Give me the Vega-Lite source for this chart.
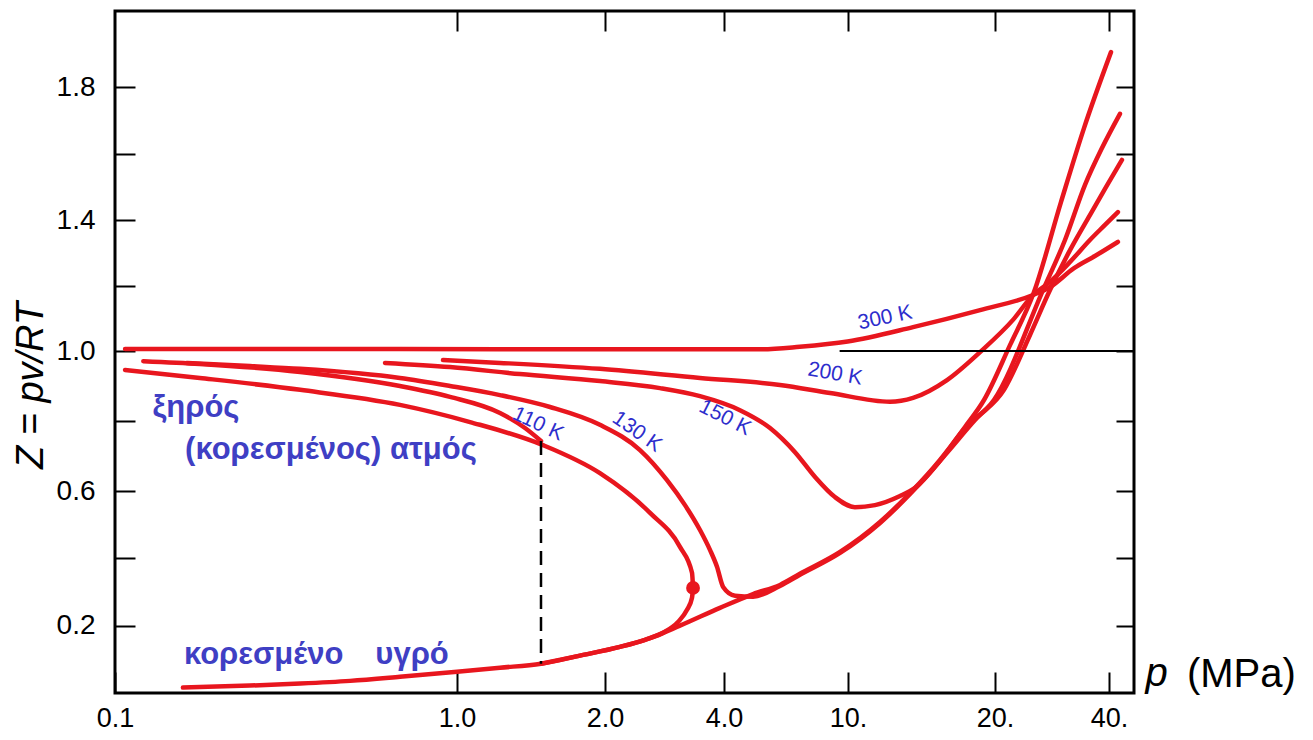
{
  "$schema": "https://vega.github.io/schema/vega-lite/v6.json",
  "width": 1019,
  "height": 682,
  "autosize": {"type": "none"},
  "padding": {"left": 115, "top": 11, "right": 179, "bottom": 47},
  "background": "white",
  "config": {
    "font": "Liberation Sans",
    "view": {"stroke": "black", "strokeWidth": 3},
    "axis": {"grid": false, "domain": false, "tickColor": "black", "tickWidth": 2, "labelColor": "black", "titleColor": "black", "labelFont": "Liberation Sans", "titleFont": "Liberation Sans"}
  },
  "datasets": {
    "curves": [
      {"s": "300K", "p": 0.107, "Z": 1.006}, {"s": "300K", "p": 0.681, "Z": 1.006}, {"s": "300K", "p": 1.953, "Z": 1.005}, {"s": "300K", "p": 5.2, "Z": 1.005}, {"s": "300K", "p": 7.0, "Z": 1.013}, {"s": "300K", "p": 9.97, "Z": 1.029}, {"s": "300K", "p": 13.59, "Z": 1.073}, {"s": "300K", "p": 18.64, "Z": 1.125}, {"s": "300K", "p": 25.2, "Z": 1.171}, {"s": "300K", "p": 27.94, "Z": 1.195}, {"s": "300K", "p": 32.34, "Z": 1.253}, {"s": "300K", "p": 36.73, "Z": 1.29}, {"s": "300K", "p": 42.24, "Z": 1.333},
      {"s": "200K", "p": 0.91, "Z": 0.974}, {"s": "200K", "p": 1.223, "Z": 0.966}, {"s": "200K", "p": 1.953, "Z": 0.949}, {"s": "200K", "p": 3.478, "Z": 0.923}, {"s": "200K", "p": 6.05, "Z": 0.903}, {"s": "200K", "p": 8.76, "Z": 0.88}, {"s": "200K", "p": 12.19, "Z": 0.855}, {"s": "200K", "p": 13.59, "Z": 0.866}, {"s": "200K", "p": 15.95, "Z": 0.917}, {"s": "200K", "p": 18.64, "Z": 0.997}, {"s": "200K", "p": 22.31, "Z": 1.095}, {"s": "200K", "p": 25.2, "Z": 1.171}, {"s": "200K", "p": 27.94, "Z": 1.211}, {"s": "200K", "p": 31.56, "Z": 1.272}, {"s": "200K", "p": 35.62, "Z": 1.339}, {"s": "200K", "p": 39.04, "Z": 1.385}, {"s": "200K", "p": 42.24, "Z": 1.424},
      {"s": "150K", "p": 0.616, "Z": 0.966}, {"s": "150K", "p": 0.954, "Z": 0.954}, {"s": "150K", "p": 1.343, "Z": 0.934}, {"s": "150K", "p": 1.953, "Z": 0.914}, {"s": "150K", "p": 2.755, "Z": 0.894}, {"s": "150K", "p": 3.478, "Z": 0.871}, {"s": "150K", "p": 4.5, "Z": 0.831}, {"s": "150K", "p": 5.62, "Z": 0.78}, {"s": "150K", "p": 6.76, "Z": 0.711}, {"s": "150K", "p": 7.84, "Z": 0.64}, {"s": "150K", "p": 9.08, "Z": 0.582}, {"s": "150K", "p": 10.33, "Z": 0.552}, {"s": "150K", "p": 11.36, "Z": 0.558}, {"s": "150K", "p": 12.78, "Z": 0.585}, {"s": "150K", "p": 13.72, "Z": 0.609}, {"s": "150K", "p": 15.8, "Z": 0.703}, {"s": "150K", "p": 18.2, "Z": 0.803}, {"s": "150K", "p": 21.12, "Z": 0.889}, {"s": "150K", "p": 24.74, "Z": 1.049}, {"s": "150K", "p": 27.94, "Z": 1.186}, {"s": "150K", "p": 31.56, "Z": 1.308}, {"s": "150K", "p": 35.62, "Z": 1.415}, {"s": "150K", "p": 39.27, "Z": 1.499}, {"s": "150K", "p": 43.29, "Z": 1.581},
      {"s": "130K", "p": 0.162, "Z": 0.966}, {"s": "130K", "p": 0.248, "Z": 0.957}, {"s": "130K", "p": 0.348, "Z": 0.949}, {"s": "130K", "p": 0.681, "Z": 0.923}, {"s": "130K", "p": 0.954, "Z": 0.9}, {"s": "130K", "p": 1.223, "Z": 0.874}, {"s": "130K", "p": 1.546, "Z": 0.84}, {"s": "130K", "p": 1.953, "Z": 0.789}, {"s": "130K", "p": 2.452, "Z": 0.717}, {"s": "130K", "p": 2.87, "Z": 0.631}, {"s": "130K", "p": 3.187, "Z": 0.558}, {"s": "130K", "p": 3.478, "Z": 0.484}, {"s": "130K", "p": 3.686, "Z": 0.425}, {"s": "130K", "p": 3.84, "Z": 0.375}, {"s": "130K", "p": 3.98, "Z": 0.315}, {"s": "130K", "p": 4.34, "Z": 0.289}, {"s": "130K", "p": 4.96, "Z": 0.286}, {"s": "130K", "p": 6.05, "Z": 0.318}, {"s": "130K", "p": 7.01, "Z": 0.351}, {"s": "130K", "p": 9.43, "Z": 0.416}, {"s": "130K", "p": 11.63, "Z": 0.505}, {"s": "130K", "p": 13.4, "Z": 0.591}, {"s": "130K", "p": 15.43, "Z": 0.686}, {"s": "130K", "p": 17.36, "Z": 0.78}, {"s": "130K", "p": 19.9, "Z": 0.86}, {"s": "130K", "p": 26.78, "Z": 1.186}, {"s": "130K", "p": 30.61, "Z": 1.339}, {"s": "130K", "p": 34.57, "Z": 1.506}, {"s": "130K", "p": 38.33, "Z": 1.617}, {"s": "130K", "p": 42.77, "Z": 1.72},
      {"s": "110V", "p": 0.121, "Z": 0.971}, {"s": "110V", "p": 0.177, "Z": 0.963}, {"s": "110V", "p": 0.348, "Z": 0.94}, {"s": "110V", "p": 0.681, "Z": 0.9}, {"s": "110V", "p": 0.954, "Z": 0.869}, {"s": "110V", "p": 1.223, "Z": 0.823}, {"s": "110V", "p": 1.375, "Z": 0.78}, {"s": "110V", "p": 1.482, "Z": 0.743},
      {"s": "110L", "p": 1.482, "Z": 0.087}, {"s": "110L", "p": 1.779, "Z": 0.111}, {"s": "110L", "p": 2.182, "Z": 0.137}, {"s": "110L", "p": 2.525, "Z": 0.158}, {"s": "110L", "p": 3.095, "Z": 0.2}, {"s": "110L", "p": 3.907, "Z": 0.253}, {"s": "110L", "p": 4.96, "Z": 0.294}, {"s": "110L", "p": 6.05, "Z": 0.321}, {"s": "110L", "p": 7.01, "Z": 0.354}, {"s": "110L", "p": 9.43, "Z": 0.419}, {"s": "110L", "p": 11.63, "Z": 0.508}, {"s": "110L", "p": 13.4, "Z": 0.594}, {"s": "110L", "p": 15.43, "Z": 0.689}, {"s": "110L", "p": 17.36, "Z": 0.783}, {"s": "110L", "p": 18.99, "Z": 0.86}, {"s": "110L", "p": 21.91, "Z": 1.018}, {"s": "110L", "p": 25.35, "Z": 1.18}, {"s": "110L", "p": 29.87, "Z": 1.454}, {"s": "110L", "p": 34.36, "Z": 1.677}, {"s": "110L", "p": 40.49, "Z": 1.906},
      {"s": "SV", "p": 0.107, "Z": 0.946}, {"s": "SV", "p": 0.177, "Z": 0.923}, {"s": "SV", "p": 0.348, "Z": 0.889}, {"s": "SV", "p": 0.681, "Z": 0.846}, {"s": "SV", "p": 1.063, "Z": 0.797}, {"s": "SV", "p": 1.496, "Z": 0.731}, {"s": "SV", "p": 1.953, "Z": 0.651}, {"s": "SV", "p": 2.6, "Z": 0.535}, {"s": "SV", "p": 3.095, "Z": 0.434}, {"s": "SV", "p": 3.32, "Z": 0.357}, {"s": "SV", "p": 3.34, "Z": 0.312},
      {"s": "SL", "p": 0.158, "Z": 0.016}, {"s": "SL", "p": 0.248, "Z": 0.022}, {"s": "SL", "p": 0.348, "Z": 0.028}, {"s": "SL", "p": 0.487, "Z": 0.036}, {"s": "SL", "p": 0.681, "Z": 0.048}, {"s": "SL", "p": 1.0, "Z": 0.063}, {"s": "SL", "p": 1.223, "Z": 0.075}, {"s": "SL", "p": 1.482, "Z": 0.087}, {"s": "SL", "p": 1.779, "Z": 0.111}, {"s": "SL", "p": 2.182, "Z": 0.137}, {"s": "SL", "p": 2.525, "Z": 0.158}, {"s": "SL", "p": 2.836, "Z": 0.182}, {"s": "SL", "p": 3.06, "Z": 0.211}, {"s": "SL", "p": 3.225, "Z": 0.247}, {"s": "SL", "p": 3.32, "Z": 0.283}, {"s": "SL", "p": 3.34, "Z": 0.312}
    ],
    "crit": [{"p": 3.34, "Z": 0.312}],
    "dash": [{"p": 1.482, "Z": 0.743, "Z2": 0.087}],
    "ref": [{"p": 9.4, "p2": 46.6, "Z": 1.0}],
    "greek": [
      {"t": "ξηρός", "p": 0.1725, "Z": 0.837},
      {"t": "(κορεσμένος) ατμός", "p": 0.428, "Z": 0.717},
      {"t": "κορεσμένο", "p": 0.272, "Z": 0.1136},
      {"t": "υγρό", "p": 0.739, "Z": 0.1136}
    ],
    "temps": [
      {"t": "300 K", "p": 11.91, "Z": 1.101},
      {"t": "200 K", "p": 9.08, "Z": 0.934},
      {"t": "150 K", "p": 4.03, "Z": 0.809},
      {"t": "130 K", "p": 2.41, "Z": 0.769},
      {"t": "110 K", "p": 1.461, "Z": 0.791}
    ],
    "unit": [{"t": "(MPa)", "p": 89.8, "Z": 0.054}]
  },
  "resolve": {"axis": {"x": "independent", "y": "independent"}},
  "layer": [
    {
      "data": {"name": "curves"},
      "mark": {"type": "line", "color": "#e8161e", "strokeWidth": 4.5, "interpolate": "monotone", "strokeCap": "round"},
      "encoding": {
        "x": {"field": "p", "type": "quantitative",
          "scale": {"type": "log", "domain": [0.1, 1, 2, 4, 10, 20, 40, 46.6], "range": [0, 342, 490, 609, 733, 880, 994, 1019], "nice": false, "zero": false},
          "axis": {"orient": "bottom", "values": [0.1, 1, 2, 4, 10, 20, 40],
            "labelExpr": "datum.value == 0.1 ? '0.1' : datum.value == 1 ? '1.0' : datum.value == 2 ? '2.0' : datum.value == 4 ? '4.0' : datum.value == 10 ? '10.' : datum.value == 20 ? '20.' : '40.'",
            "tickSize": -21, "labelPadding": 33, "labelFontSize": 27, "labelFlush": false, "labelOverlap": false, "labelBound": false,
            "title": "p", "titleFontSize": 40, "titleFontStyle": "italic", "titleFontWeight": "normal", "titleX": 1041, "titleY": -20, "titleAlign": "center", "titleBaseline": "middle"}},
        "y": {"field": "Z", "type": "quantitative",
          "scale": {"domain": [0, 0.6, 1.0, 1.4, 2.03], "range": [682, 480, 340, 209, 0], "nice": false, "zero": false},
          "axis": {"orient": "left", "values": [0.2, 0.4, 0.6, 0.8, 1.0, 1.2, 1.4, 1.6, 1.8],
            "labelExpr": "(datum.value == 0.2 || datum.value == 0.6 || datum.value == 1 || datum.value == 1.4 || datum.value == 1.8) ? format(datum.value, '.1f') : ''",
            "tickSize": -20, "labelPadding": 40, "labelFontSize": 28, "labelOverlap": false,
            "title": "Z = pv/RT", "titleFontSize": 38, "titleFontStyle": "italic", "titleFontWeight": "normal", "titleX": -84, "titleY": 374, "titleAngle": -90, "titleAlign": "center", "titleBaseline": "middle"}},
        "detail": {"field": "s", "type": "nominal"}
      }
    },
    {
      "data": {"name": "ref"},
      "mark": {"type": "rule", "color": "black", "strokeWidth": 2},
      "encoding": {
        "x": {"field": "p", "type": "quantitative",
          "axis": {"orient": "top", "values": [1, 2, 4, 10, 20, 40], "labels": false, "tickSize": -20, "title": null}},
        "x2": {"field": "p2"},
        "y": {"field": "Z", "type": "quantitative",
          "axis": {"orient": "right", "values": [0.2, 0.4, 0.6, 0.8, 1.0, 1.2, 1.4, 1.6, 1.8], "labels": false, "tickSize": -18, "title": null}}
      }
    },
    {
      "data": {"name": "dash"},
      "mark": {"type": "rule", "color": "black", "strokeWidth": 2.5, "strokeDash": [14, 8]},
      "encoding": {
        "x": {"field": "p", "type": "quantitative", "axis": null},
        "y": {"field": "Z", "type": "quantitative", "axis": null},
        "y2": {"field": "Z2"}
      }
    },
    {
      "data": {"name": "crit"},
      "mark": {"type": "point", "filled": true, "color": "#e8161e", "opacity": 1, "size": 190},
      "encoding": {
        "x": {"field": "p", "type": "quantitative", "axis": null},
        "y": {"field": "Z", "type": "quantitative", "axis": null}
      }
    },
    {
      "data": {"name": "greek"},
      "mark": {"type": "text", "color": "#3f3fc4", "fontSize": 31, "fontWeight": "bold", "align": "center", "baseline": "middle", "font": "Liberation Sans"},
      "encoding": {
        "x": {"field": "p", "type": "quantitative", "axis": null},
        "y": {"field": "Z", "type": "quantitative", "axis": null},
        "text": {"field": "t"}
      }
    },
    {
      "data": {"name": "temps"},
      "transform": [{"filter": "datum.t == '300 K'"}],
      "mark": {"type": "text", "color": "#2d2dcc", "fontSize": 21, "align": "center", "baseline": "middle", "angle": -12, "font": "Liberation Sans"},
      "encoding": {"x": {"field": "p", "type": "quantitative", "axis": null}, "y": {"field": "Z", "type": "quantitative", "axis": null}, "text": {"field": "t"}}
    },
    {
      "data": {"name": "temps"},
      "transform": [{"filter": "datum.t == '200 K'"}],
      "mark": {"type": "text", "color": "#2d2dcc", "fontSize": 21, "align": "center", "baseline": "middle", "angle": 10, "font": "Liberation Sans"},
      "encoding": {"x": {"field": "p", "type": "quantitative", "axis": null}, "y": {"field": "Z", "type": "quantitative", "axis": null}, "text": {"field": "t"}}
    },
    {
      "data": {"name": "temps"},
      "transform": [{"filter": "datum.t == '150 K'"}],
      "mark": {"type": "text", "color": "#2d2dcc", "fontSize": 21, "align": "center", "baseline": "middle", "angle": 27, "font": "Liberation Sans"},
      "encoding": {"x": {"field": "p", "type": "quantitative", "axis": null}, "y": {"field": "Z", "type": "quantitative", "axis": null}, "text": {"field": "t"}}
    },
    {
      "data": {"name": "temps"},
      "transform": [{"filter": "datum.t == '130 K'"}],
      "mark": {"type": "text", "color": "#2d2dcc", "fontSize": 21, "align": "center", "baseline": "middle", "angle": 35, "font": "Liberation Sans"},
      "encoding": {"x": {"field": "p", "type": "quantitative", "axis": null}, "y": {"field": "Z", "type": "quantitative", "axis": null}, "text": {"field": "t"}}
    },
    {
      "data": {"name": "temps"},
      "transform": [{"filter": "datum.t == '110 K'"}],
      "mark": {"type": "text", "color": "#2d2dcc", "fontSize": 21, "align": "center", "baseline": "middle", "angle": 25, "font": "Liberation Sans"},
      "encoding": {"x": {"field": "p", "type": "quantitative", "axis": null}, "y": {"field": "Z", "type": "quantitative", "axis": null}, "text": {"field": "t"}}
    },
    {
      "data": {"name": "unit"},
      "mark": {"type": "text", "color": "black", "fontSize": 40, "align": "center", "baseline": "middle", "font": "Liberation Sans"},
      "encoding": {"x": {"field": "p", "type": "quantitative", "axis": null}, "y": {"field": "Z", "type": "quantitative", "axis": null}, "text": {"field": "t"}}
    }
  ]
}
